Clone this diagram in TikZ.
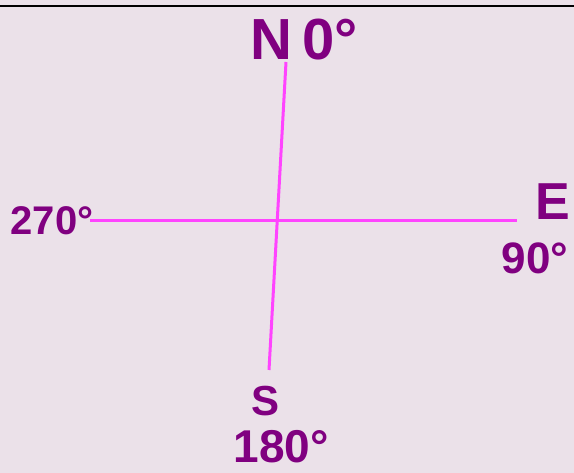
\documentclass[tikz,border=0pt]{standalone}
\usepackage{fontspec}
\setmainfont{Liberation Sans}
\usetikzlibrary{positioning}
\definecolor{paper}{HTML}{EBE1E9}
\definecolor{axis}{HTML}{FF44FF}
\definecolor{ink}{HTML}{800080}

\begin{document}
\begin{tikzpicture}[
  x=1pt, y=-1pt,
  axisline/.style={axis, line width=3pt},
  lbl/.style={text=ink, inner sep=0pt, font=\fontsize{#1}{#1}\selectfont\bfseries},
]
\fill[paper] (0,0) rectangle (574,473);
\useasboundingbox (0,0) rectangle (574,473);
\draw[black, line width=2pt] (0,6) -- (574,6);

%% Axis ends
\coordinate (top)    at (286,62);
\coordinate (bottom) at (269,370);
\coordinate (left)   at (90,221);
\coordinate (right)  at (517,221);

%% Axes
\draw[axisline] (top) -- (bottom);
\draw[axisline] (left) -- (right);

%% Labels
\node[lbl=58] (north) at (304,40)  {N\,0°};
\node[lbl=40] (west)  at (52,221)  {270°};
\node[lbl=52] (east)  at (553,202) {E};
\node[lbl=44] (ninety) at (535,258) {90°};
\node[lbl=42] (south) at (266,401) {S};
\node[lbl=46] (oneeighty) at (281,447) {180°};

\end{tikzpicture}
\end{document}
